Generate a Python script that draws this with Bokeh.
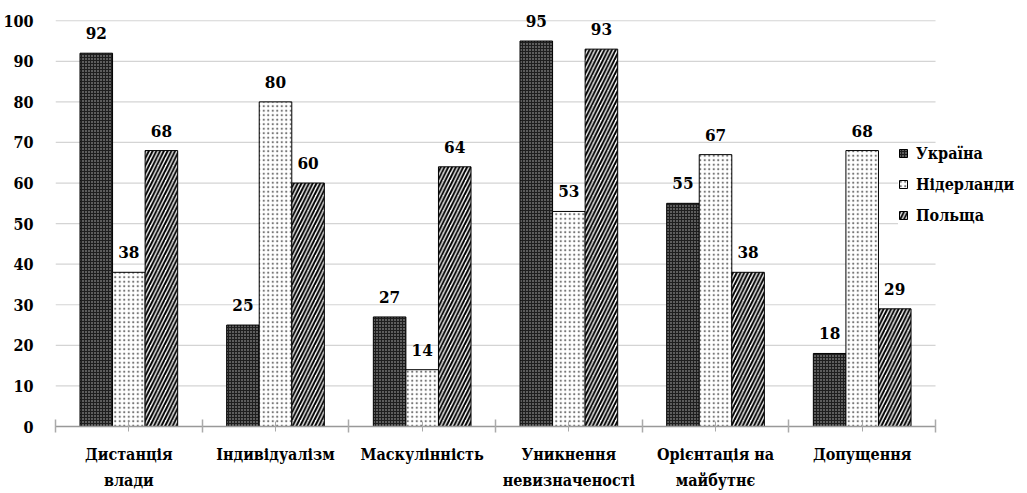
from bokeh.plotting import figure
from bokeh.models import (ColumnDataSource, Range1d, FixedTicker, Legend, LegendItem)
from bokeh.core.properties import value
from bokeh.embed import file_html
from bokeh.resources import INLINE

categories = ["Дистанція\nвлади", "Індивідуалізм", "Маскулінність",
              "Уникнення\nневизначеності", "Орієнтація на\nмайбутнє", "Допущення"]
series_names = ["Україна", "Нідерланди", "Польща"]
ukraine = [92, 25, 27, 95, 55, 18]
netherlands = [38, 80, 14, 53, 67, 68]
poland = [68, 60, 64, 93, 38, 29]
y_ticks = [0, 10, 20, 30, 40, 50, 60, 70, 80, 90, 100]

FONT = "DejaVu Serif Condensed"
W, H = 1027, 493
bar_w = 0.222
n = len(categories)
extra = 0.627   # room right of the last group for the legend
y_top = 104     # headroom above 100 so the top value labels are not clipped

p = figure(width=W, height=H, output_backend="svg", toolbar_location=None,
           x_range=Range1d(0, n + extra), y_range=Range1d(0, y_top),
           min_border_left=54, min_border_right=0, min_border_top=4, min_border_bottom=65)
p.outline_line_color = None
p.background_fill_color = "white"
p.border_fill_color = "white"

centers = [i + 0.5 for i in range(n)]

p.xgrid.visible = False
p.ygrid.visible = False
p.segment(x0=[0] * len(y_ticks), x1=[n] * len(y_ticks), y0=y_ticks, y1=y_ticks,
          line_color="#d4d4d4", line_width=1.2, level="underlay")

styles = [
    dict(fill_color="#1e1e1e", hatch_pattern="dot", hatch_color="#bbbbbb", hatch_scale=3, hatch_weight=1.3),
    dict(fill_color="white", hatch_pattern="dot", hatch_color="#777777", hatch_scale=4.5, hatch_weight=1.3),
    dict(fill_color="white", hatch_pattern="right_diagonal_line", hatch_color="black", hatch_scale=7.5, hatch_weight=2.0),
]
data = [ukraine, netherlands, poland]
offsets = [-bar_w, 0, bar_w]

renderers = []
for name, vals, off, st in zip(series_names, data, offsets, styles):
    src = ColumnDataSource(dict(x=[c + off for c in centers], top=vals,
                                lab=[str(v) for v in vals]))
    r = p.vbar(x="x", top="top", width=bar_w, bottom=0, source=src,
               line_color="black", line_width=1, **st)
    renderers.append(r)
    p.text(x="x", y="top", text="lab", source=src, text_align="center",
           text_baseline="alphabetic", y_offset=-20, text_font=value(FONT),
           text_font_style="bold", text_font_size="17px", text_color="black")

p.yaxis.ticker = FixedTicker(ticks=y_ticks)
p.yaxis.axis_line_color = None
p.yaxis.major_tick_line_color = None
p.yaxis.minor_tick_line_color = None
p.yaxis.major_label_text_font = FONT
p.yaxis.major_label_text_font_style = "bold"
p.yaxis.major_label_text_font_size = "16px"
p.yaxis.major_label_text_color = "black"
p.yaxis.major_label_standoff = 16

p.xaxis.bounds = (0, n)
p.xaxis.ticker = FixedTicker(ticks=centers, minor_ticks=list(range(n + 1)))
p.xaxis.major_label_overrides = {c: lab for c, lab in zip(centers, categories)}
p.xaxis.axis_line_color = "#999999"
p.xaxis.axis_line_width = 1.5
p.xaxis.major_tick_line_color = "#aaaaaa"
p.xaxis.major_tick_in = 5
p.xaxis.major_tick_out = 5
p.xaxis.minor_tick_line_color = "#aaaaaa"
p.xaxis.minor_tick_line_width = 1.5
p.xaxis.minor_tick_in = 7
p.xaxis.minor_tick_out = 6
p.xaxis.major_label_text_font = FONT
p.xaxis.major_label_text_font_style = "bold"
p.xaxis.major_label_text_font_size = "16px"
p.xaxis.major_label_text_color = "black"
p.xaxis.major_label_text_line_height = 1.4
p.xaxis.major_label_standoff = 12

legend = Legend(items=[LegendItem(label=nm, renderers=[r]) for nm, r in zip(series_names, renderers)],
                location=(843, 201), orientation="vertical",
                glyph_width=10, glyph_height=10, label_height=20, spacing=11,
                padding=8, margin=0, label_standoff=8,
                label_text_font=FONT, label_text_font_style="bold",
                label_text_font_size="16px", label_text_color="black",
                border_line_color=None, background_fill_color="white", background_fill_alpha=1.0)
p.add_layout(legend, "center")

open("out.html", "w").write(file_html(p, INLINE))
